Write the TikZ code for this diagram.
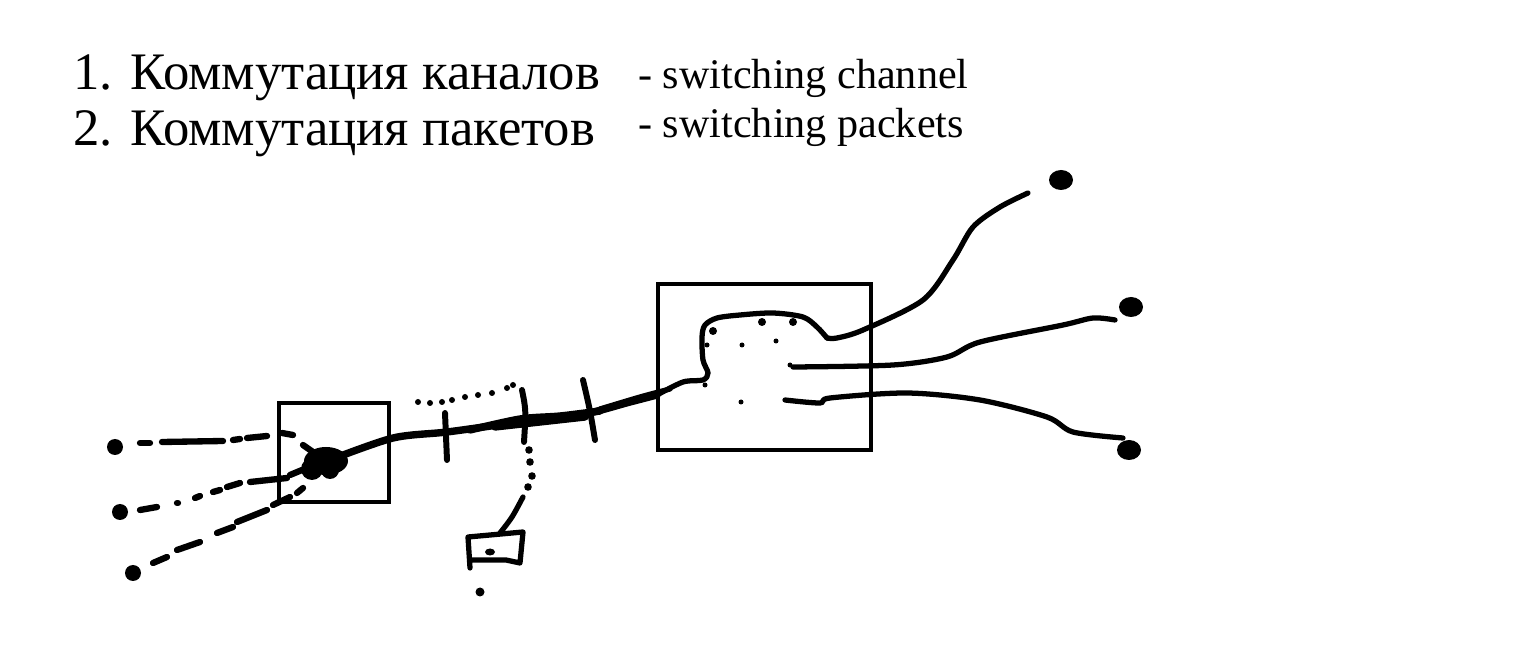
\documentclass[tikz,border=0pt]{standalone}
\usepackage{fontspec}
\setmainfont{Liberation Serif}
\usepackage{tikz}

\begin{document}
\begin{tikzpicture}[x=0.02cm,y=-0.02cm,
    box/.style={line width=2.7pt},
    wire/.style={line width=3pt,line cap=round,line join=round},
    trunk/.style={line width=4.2pt,line cap=round,line join=round},
    legend/.style={anchor=base west,inner sep=0pt}]
    \fill[white] (0,0) rectangle (1519,665);
    \useasboundingbox (0,0) rectangle (1519,665);
    % legend
    \node[legend,font=\fontsize{30}{36}\selectfont] (ru1) at (73,90) {1. Коммутация каналов};
    \node[legend,font=\fontsize{30}{36}\selectfont] (ru2) at (73,146) {2. Коммутация пакетов};
    \node[legend,font=\fontsize{24}{28}\selectfont] (en1) at (638,89) {- switching channel};
    \node[legend,font=\fontsize{24}{28}\selectfont] (en2) at (638,138) {- switching packets};
    % switches
    \draw [box] (279,403) rectangle (389,502);
    \draw [box] (658,284) rectangle (871,450);
    % trunk between switches
    \draw [trunk] plot[smooth] coordinates {(330,460) (393,438) (447,432) (513,423) (580,415) (630,402) (657,395)};
    \draw [trunk] plot[smooth] coordinates {(470,430) (520,419) (560,416) (600,411)};
    \draw [trunk] plot[smooth] coordinates {(495,427) (540,422) (585,417)};
    \draw [trunk,line width=3pt] plot[smooth] coordinates {(600,409) (640,397) (670,389)};
    \fill (326,461) ellipse [x radius=22,y radius=14];
    \fill (312,469) circle (11);
    \fill (330,470) circle (9);
    % dashed lines to the left
    \foreach \xa/\ya/\xb/\yb in {140/443/150/443, 162/442/223/441, 233/440/240/439,
        247/438/267/436, 282/433/293/435, 303/445/313/452,
        140/510/157/507, 177/503/178/503, 195/498/200/496, 213/492/220/490,
        227/487/240/483, 250/482/287/478, 290/475/302/470,
        153/563/167/557, 177/550/200/542, 217/533/233/527, 237/522/267/510,
        273/505/290/497, 297/493/303/488}
    {   \draw [wire,line width=3.6pt] (\xa,\ya) -- (\xb,\yb);
    }
    \foreach \x/\y in {115/447,120/512,133/573}
    {   \fill (\x,\y) circle (8);
    }
    % cuts on the trunk
    \draw [wire,line width=3.4pt] (445,413) -- (447,460);
    \draw [wire,line width=3.4pt] (522,390) .. controls (526,410) .. (524,442);
    \draw [wire,line width=3.4pt] (583,380) .. controls (590,410) .. (595,440);
    \foreach \x/\y in {418/402,430/403,442/402,452/400,465/397,478/395,492/393,507/388,513/385}
    {   \fill (\x,\y) circle (3);
    }
    % branch down to the terminal
    \foreach \x/\y in {529/450,530/462,532/476,528/487}
    {   \fill (\x,\y) circle (3.8);
    }
    \draw [wire] plot[smooth] coordinates {(523,497) (512,517) (500,533)};
    \draw [wire] (470,568) -- (468,537) -- (523,532) -- (520,563) -- (506,560) -- (470,560);
    \fill (490,552) ellipse [x radius=5,y radius=3.5];
    \fill (480,592) circle (4.5);
    % inside the right switch
    \draw [wire] plot[smooth] coordinates {(657,395) (683,382) (703,380) (708,373) (703,360)
        (702,337) (705,325) (717,318) (740,315) (773,313) (803,317) (817,327) (827,338)};
    \foreach \x/\y/\r in {713/331/4,762/322/4,793/322/4,707/345/2.5,742/345/2.5,
        776/341/2.5,790/365/2.5,705/385/2.5,741/402/2.5}
    {   \fill (\x,\y) circle (\r);
    }
    % lines to the right
    \draw [wire] plot[smooth] coordinates {(827,338) (837,338) (863,330) (923,300)
        (953,260) (973,227) (1000,207) (1028,193)};
    \draw [wire] plot[smooth] coordinates {(793,367) (893,365) (947,357) (980,342)
        (1063,325) (1093,318) (1115,320)};
    \draw [wire] plot[smooth] coordinates {(785,400) (820,403) (830,398) (907,393)
        (980,400) (1047,417) (1073,432) (1123,438)};
    \foreach \x/\y in {1061/180,1131/307,1129/450}
    {   \fill (\x,\y) ellipse [x radius=12,y radius=10];
    }
\end{tikzpicture}
\end{document}
